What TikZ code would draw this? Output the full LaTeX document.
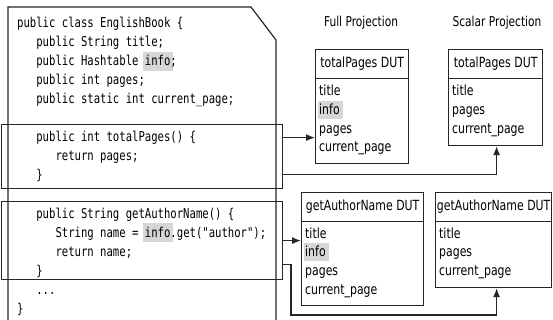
\documentclass[tikz,border=0pt]{standalone}
\usepackage{fontspec}
\usetikzlibrary{arrows.meta}
\newfontfamily\codefont[FakeStretch=0.78]{DejaVu Sans Mono}
\newfontfamily\labelfont[FakeStretch=0.78]{DejaVu Sans}
\definecolor{hlgray}{HTML}{D6D6D6}
\definecolor{ink}{HTML}{262626}

% grey marker behind a word, without moving the text
\newcommand\hlcode[1]{\setbox0\hbox{#1}\kern-2.2pt\rlap{\textcolor{hlgray}{\rule[-5pt]{\dimexpr\wd0+4.4pt\relax}{19pt}}}\kern2.2pt\box0}
\newcommand\hlfield[1]{\setbox0\hbox{#1}\kern-1pt\rlap{\textcolor{hlgray}{\rule[-4pt]{\dimexpr\wd0+4pt\relax}{18pt}}}\kern1pt\box0}

\tikzset{
  edge/.style={draw=ink, line width=1.2pt},
  methodbox/.style={edge, rectangle, inner sep=0pt, anchor=north west, minimum width=281pt},
  code/.style={inner sep=0pt, anchor=base west, text=black, font=\codefont\fontsize{13.6}{19}\selectfont},
  field/.style={inner sep=0pt, anchor=base west, text=black, font=\labelfont\fontsize{14}{18.7}\selectfont},
  heading/.style={inner sep=0pt, text=black, font=\labelfont\fontsize{13.6}{16}\selectfont},
  duthead/.style={edge, rectangle, inner sep=0pt, anchor=north west, minimum height=29pt, text=black, font=\labelfont\fontsize{14}{16}\selectfont},
  dutbody/.style={edge, rectangle, inner sep=0pt, anchor=north west},
  arr/.style={draw=ink, line width=1.2pt, -{Latex[length=9pt,width=7pt]}}
}

\begin{document}
\begin{tikzpicture}[x=1pt,y=-1pt]
\useasboundingbox (0,0) rectangle (553,320);
\fill[white] (0,0) rectangle (553,320);

% source file sheet with folded corner
\draw[edge, line join=miter] (8,321) -- (8,7) -- (251,7) -- (276,40) -- (276,321);

% source lines: number / indent level / line centre / text
\foreach \n/\lv/\ly/\txt in {
  1/0/23/{public class EnglishBook \{},
  2/1/42/{public String title;},
  3/1/61/{public Hashtable \hlcode{info};},
  4/1/80/{public int pages;},
  5/1/99/{public static int current\_page;},
  7/1/137/{public int totalPages() \{},
  8/2/156/{return pages;},
  9/1/175/{\}},
  11/1/213/{public String getAuthorName() \{},
  12/2/232/{String name = \hlcode{info}.get(\char34 author\char34);},
  13/2/251/{return name;},
  14/1/270/{\}},
  15/1/289/{...},
  16/0/308/{\}}}
  \node[code] (code\n) at ({17+19.16*\lv},{\ly+5}) {\txt};

% method boxes
\node[methodbox, minimum height=64pt] (m1) at (1,124) {};
\node[methodbox, minimum height=78pt] (m2) at (1,201) {};

% column headings
\node[heading] (hfull) at (361,23) {Full Projection};
\node[heading] (hscalar) at (497,23) {Scalar Projection};

% totalPages, full projection
\node[duthead, minimum width=93pt] (fullTh) at (315,49) {totalPages DUT};
\node[dutbody, minimum width=93pt, minimum height=85pt] (fullTb) at (315,78) {};
\foreach \k/\ly/\txt in {1/91/title, 2/109.7/\hlfield{info}, 3/128.4/pages, 4/147/current\_page}
  \node[field] (fullTf\k) at (319,{\ly+5}) {\txt};

% totalPages, scalar projection
\node[duthead, minimum width=94pt] (scalarTh) at (448,49) {totalPages DUT};
\node[dutbody, minimum width=94pt, minimum height=67pt] (scalarTb) at (448,78) {};
\foreach \k/\ly/\txt in {1/91/title, 2/109.7/pages, 3/128.4/current\_page}
  \node[field] (scalarTf\k) at (452,{\ly+5}) {\txt};

% getAuthorName, full projection
\node[duthead, minimum width=122pt] (fullAh) at (301,192) {getAuthorName DUT};
\node[dutbody, minimum width=122pt, minimum height=84pt] (fullAb) at (301,221) {};
\foreach \k/\ly/\txt in {1/233/title, 2/251.7/\hlfield{info}, 3/270.4/pages, 4/289/current\_page}
  \node[field] (fullAf\k) at (305,{\ly+5}) {\txt};

% getAuthorName, scalar projection
\node[duthead, minimum width=116pt] (scalarAh) at (435,192) {getAuthorName DUT};
\node[dutbody, minimum width=116pt, minimum height=66pt] (scalarAb) at (435,221) {};
\foreach \k/\ly/\txt in {1/233/title, 2/251.7/pages, 3/270.4/current\_page}
  \node[field] (scalarAf\k) at (439,{\ly+5}) {\txt};

% connectors
\coordinate (p1) at ([yshift=19pt]m1.east);
\draw[arr] (p1) -- (p1 -| fullTb.west);
\coordinate (p2) at ([yshift=-18pt]m1.east);
\draw[arr] (p2) -| ([xshift=1pt]scalarTb.south);
\draw[arr] (m2.east) -- (m2.east -| fullAb.west);
\coordinate (p4) at ([yshift=-24pt]m2.east);
\coordinate (q4) at (291,315);
\draw[arr] (p4) -| (q4) -| ([xshift=3pt]scalarAb.south);
\end{tikzpicture}
\end{document}
